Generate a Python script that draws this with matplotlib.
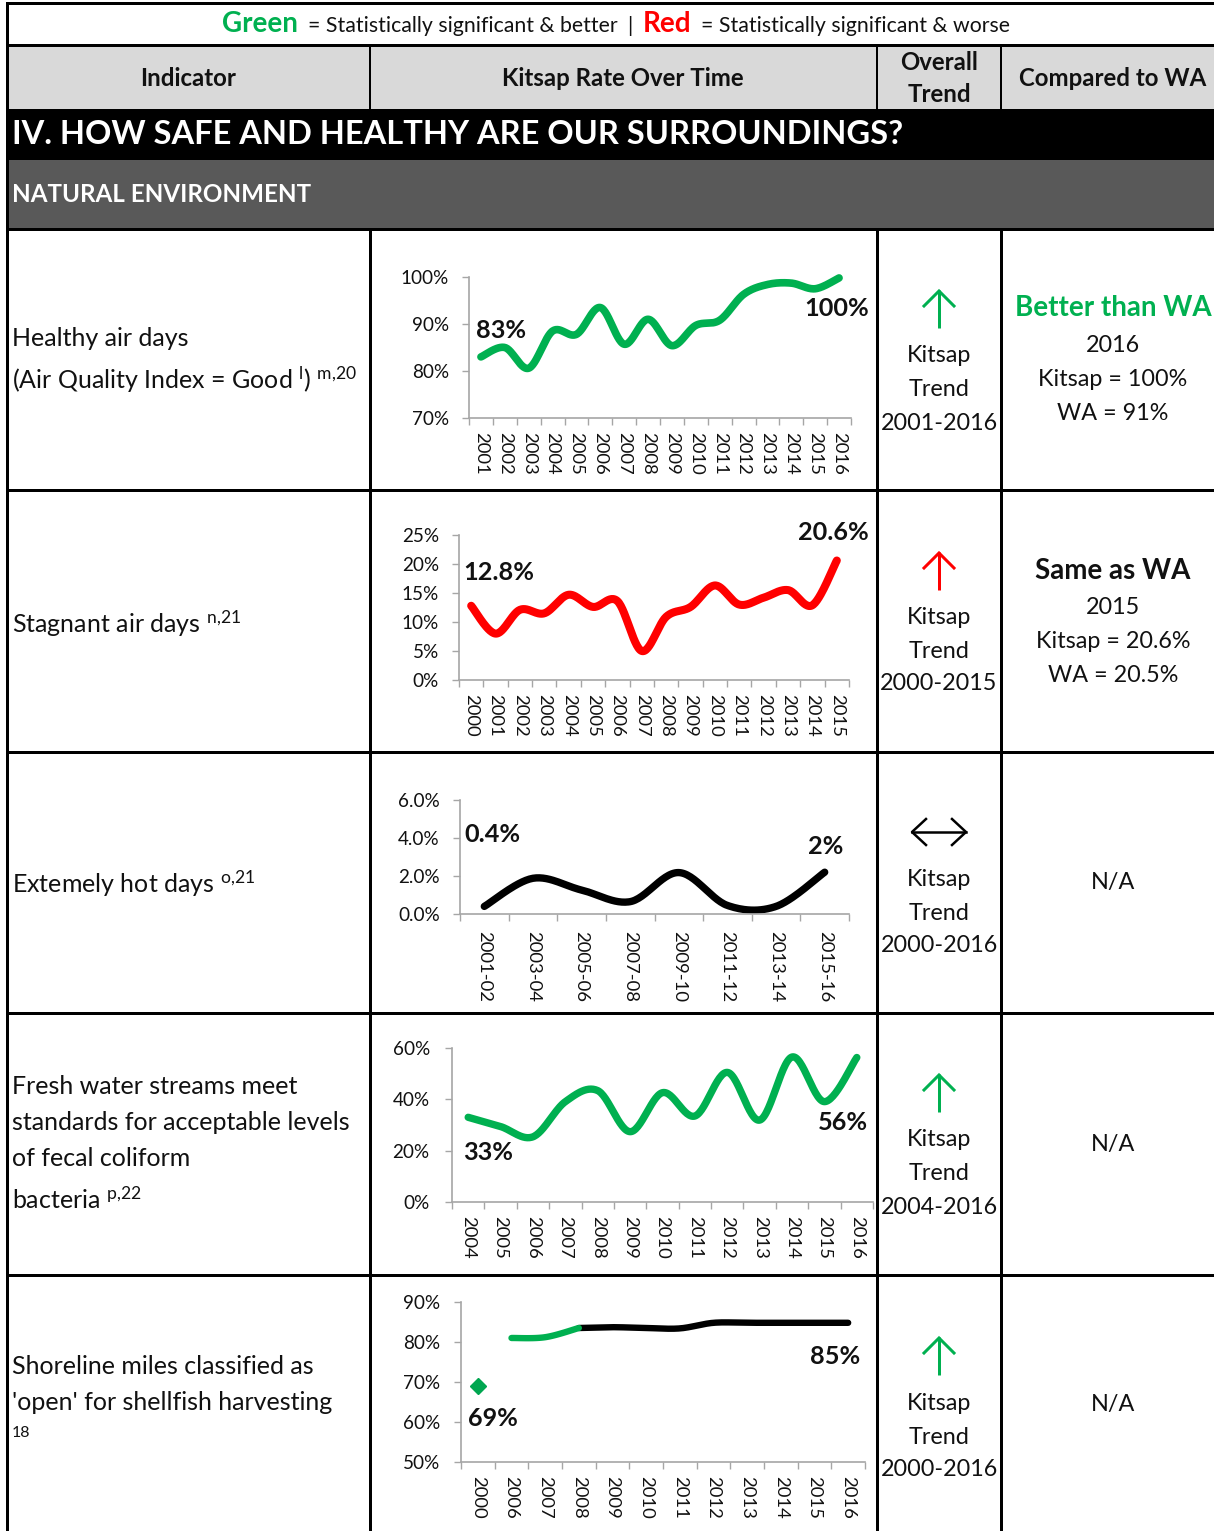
import numpy as np
import matplotlib
matplotlib.use('Agg')
import matplotlib.pyplot as plt
from matplotlib.offsetbox import TextArea, HPacker, AnnotationBbox

plt.rcParams['font.family'] = ['Lato', 'DejaVu Sans']
plt.rcParams['mathtext.fontset'] = 'custom'
plt.rcParams['mathtext.rm'] = 'Lato'
plt.rcParams['mathtext.it'] = 'Lato'

GREEN = '#00B050'
RED = '#FF0000'
AXGRAY = '#A6A6A6'
TXT = '#111111'

# ---------------- data ----------------
air_years = ['2001', '2002', '2003', '2004', '2005', '2006', '2007', '2008',
             '2009', '2010', '2011', '2012', '2013', '2014', '2015', '2016']
air_values = [83.0, 85.0, 80.6, 88.5, 87.8, 93.5, 85.7, 91.0,
              85.4, 89.7, 90.8, 96.3, 98.4, 98.7, 97.5, 99.8]

stag_years = ['2000', '2001', '2002', '2003', '2004', '2005', '2006', '2007',
              '2008', '2009', '2010', '2011', '2012', '2013', '2014', '2015']
stag_values = [12.8, 8.0, 12.1, 11.5, 14.7, 12.6, 13.6, 5.0,
               10.9, 12.6, 16.3, 13.0, 14.2, 15.5, 12.9, 20.6]

hot_periods = ['2001-02', '2003-04', '2005-06', '2007-08',
               '2009-10', '2011-12', '2013-14', '2015-16']
hot_values = [0.4, 1.88, 1.26, 0.65, 2.18, 0.45, 0.4, 2.2]

stream_years = ['2004', '2005', '2006', '2007', '2008', '2009', '2010',
                '2011', '2012', '2013', '2014', '2015', '2016']
stream_values = [33.0, 29.4, 25.4, 39.1, 43.4, 27.4, 42.6,
                 33.5, 50.5, 31.9, 56.5, 39.1, 56.3]

shore_years = ['2000', '2006', '2007', '2008', '2009', '2010', '2011',
               '2012', '2013', '2014', '2015', '2016']
shore_2000 = 69.0
shore_green_years = ['2006', '2007', '2008']
shore_green = [81.0, 81.2, 83.5]
shore_black_years = ['2008', '2009', '2010', '2011', '2012', '2013',
                     '2014', '2015', '2016']
shore_black = [83.5, 83.7, 83.5, 83.4, 84.8, 84.8, 84.8, 84.8, 84.8]

# ---------------- figure ----------------
W, H = 1214, 1531
fig = plt.figure(figsize=(W / 100, H / 100), dpi=100)
bg = fig.add_axes([0, 0, 1, 1])
bg.set_xlim(0, W)
bg.set_ylim(H, 0)
bg.axis('off')

def px(v):
    return v * 72 / 100

def rect(x0, y0, x1, y1, color):
    bg.add_patch(plt.Rectangle((x0, y0), x1 - x0, y1 - y0, color=color, lw=0, zorder=0))

def hline(y, x0, x1, w=3):
    bg.plot([x0, x1], [y, y], color='black', lw=px(w), solid_capstyle='projecting', zorder=5)

def vline(x, y0, y1, w=3):
    bg.plot([x, x], [y0, y1], color='black', lw=px(w), solid_capstyle='projecting', zorder=5)

# bands
rect(7, 45, W, 110, '#D9D9D9')
rect(7, 110, W, 160, '#000000')
rect(7, 160, W, 228, '#595959')

# borders
hline(3, 7, W)
hline(45, 7, W)
hline(110, 7, W, 2)
hline(229, 7, W)
for y in [490, 752, 1013, 1275]:
    hline(y, 7, W)
vline(7, 3, H)
for x in [370, 877, 1001]:
    vline(x, 45, 110, 2)
    vline(x, 229, H)

# legend row
ta = [TextArea('Green', textprops=dict(color=GREEN, fontsize=20, fontweight='bold')),
      TextArea('= Statistically significant & better', textprops=dict(color=TXT, fontsize=15.3)),
      TextArea('|', textprops=dict(color=TXT, fontsize=15.3)),
      TextArea('Red', textprops=dict(color=RED, fontsize=20, fontweight='bold')),
      TextArea('= Statistically significant & worse', textprops=dict(color=TXT, fontsize=15.3))]
hp = HPacker(children=ta, align='baseline', pad=0, sep=7)
bg.add_artist(AnnotationBbox(hp, (616, 24), xycoords='data', frameon=False,
                             box_alignment=(0.5, 0.5)))

# header
hdr = dict(fontsize=17.3, fontweight='bold', color=TXT, ha='center', va='center')
bg.text(188, 78, 'Indicator', **hdr)
bg.text(623, 78, 'Kitsap Rate Over Time', **hdr)
bg.text(939, 62, 'Overall', **hdr)
bg.text(939, 95, 'Trend', **hdr)
bg.text(1113, 78, 'Compared to WA', **hdr)

bg.text(12, 135, 'IV. HOW SAFE AND HEALTHY ARE OUR SURROUNDINGS?', fontsize=23.5,
        fontweight='bold', color='white', ha='left', va='center')
bg.text(12, 194, 'NATURAL ENVIRONMENT', fontsize=17.4, fontweight='bold',
        color='white', ha='left', va='center')

# indicator texts
body = dict(fontsize=18, color=TXT, ha='left', va='center')
bg.text(12, 338, 'Healthy air days', **body)
bg.text(12, 380, r'(Air Quality Index = Good $^{\mathregular{l}}$) $^{\mathregular{m{,}20}}$', **body)
bg.text(12, 624, r'Stagnant air days $^{\mathregular{n{,}21}}$', **body)
bg.text(12, 884, r'Extemely hot days $^{\mathregular{o{,}21}}$', **body)
bg.text(12, 1087, 'Fresh water streams meet', **body)
bg.text(12, 1123, 'standards for acceptable levels', **body)
bg.text(12, 1159, 'of fecal coliform', **body)
bg.text(12, 1199, r'bacteria $^{\mathregular{p{,}22}}$', **body)
bg.text(12, 1366, 'Shoreline miles classified as', **body)
bg.text(12, 1403, "'open' for shellfish harvesting", **body)
bg.text(12, 1433, '18', fontsize=11.5, color=TXT, ha='left', va='center')

# trend column
cx = 939
def up_arrow(ytop, color):
    bg.plot([cx, cx], [ytop, ytop + 38], color=color, lw=px(3), solid_capstyle='butt', zorder=6)
    bg.plot([cx - 15, cx, cx + 15], [ytop + 16, ytop + 1, ytop + 16], color=color, lw=px(3),
            solid_joinstyle='miter', zorder=6)

up_arrow(290, GREEN)
up_arrow(552, RED)
up_arrow(1074, GREEN)
up_arrow(1337, GREEN)
# double arrow
yy = 832
bg.plot([912, 966], [yy, yy], color='black', lw=px(2.5), zorder=6)
bg.plot([926, 912, 926], [yy - 13, yy, yy + 13], color='black', lw=px(2.5), zorder=6)
bg.plot([952, 966, 952], [yy - 13, yy, yy + 13], color='black', lw=px(2.5), zorder=6)

trend = dict(fontsize=16.8, color=TXT, ha='center', va='center')
for (y0, period) in [(356, '2001-2016'), (617, '2000-2015'), (879, '2000-2016'),
                     (1140, '2004-2016'), (1403, '2000-2016')]:
    bg.text(cx, y0, 'Kitsap', **trend)
    bg.text(cx, y0 + 34, 'Trend', **trend)
    bg.text(cx, y0 + 67, period, **trend)

# compared column
wx = 1113
bg.text(wx, 308, 'Better than WA', fontsize=20, fontweight='bold', color=GREEN, ha='center', va='center')
bg.text(wx, 345, '2016', **trend)
bg.text(wx, 379, 'Kitsap = 100%', **trend)
bg.text(wx, 413, 'WA = 91%', **trend)
bg.text(wx, 571, 'Same as WA', fontsize=20, fontweight='bold', color=TXT, ha='center', va='center')
bg.text(wx, 607, '2015', **trend)
bg.text(wx, 641, 'Kitsap = 20.6%', **trend)
bg.text(wx, 675, 'WA = 20.5%', **trend)
for y0 in [883, 1144, 1405]:
    bg.text(wx, y0, 'N/A', **trend)

# ---------------- charts ----------------
def smooth(xs, ys, n=30):
    xs = np.asarray(xs, float)
    ys = np.asarray(ys, float)
    if len(xs) < 2:
        return xs, ys
    pxs = np.concatenate([[xs[0]], xs, [xs[-1]]])
    pys = np.concatenate([[ys[0]], ys, [ys[-1]]])
    t = np.linspace(0, 1, n)
    ox, oy = [], []
    for i in range(1, len(pxs) - 2):
        segs = []
        for p in (pxs, pys):
            p0, p1, p2, p3 = p[i - 1], p[i], p[i + 1], p[i + 2]
            c1 = p1 + (p2 - p0) / 6
            c2 = p2 - (p3 - p1) / 6
            segs.append((1 - t) ** 3 * p1 + 3 * (1 - t) ** 2 * t * c1
                        + 3 * (1 - t) * t ** 2 * c2 + t ** 3 * p2)
        ox.append(segs[0])
        oy.append(segs[1])
    return np.concatenate(ox), np.concatenate(oy)

def make_chart(box, cats, ylim, yticks, ylabels, ypad=9.5, xpad=10):
    l, r, t, b = box
    ax = fig.add_axes([l / W, 1 - b / H, (r - l) / W, (b - t) / H])
    ax.patch.set_alpha(0)
    n = len(cats)
    ax.set_xlim(-0.5, n - 0.5)
    ax.set_ylim(*ylim)
    ax.set_yticks(yticks)
    ax.set_yticklabels(ylabels)
    ax.set_xticks(range(n))
    ax.set_xticklabels(cats, rotation=270)
    ax.set_xticks(np.arange(n + 1) - 0.5, minor=True)
    ax.tick_params(axis='x', which='major', length=0, pad=xpad, labelsize=13.3, labelcolor=TXT)
    ax.tick_params(axis='x', which='minor', length=5, width=1, color=AXGRAY)
    ax.tick_params(axis='y', length=5, width=1, color=AXGRAY, pad=ypad, labelsize=13.6,
                   labelcolor=TXT)
    for s in ['top', 'right']:
        ax.spines[s].set_visible(False)
    for s in ['left', 'bottom']:
        ax.spines[s].set_color(AXGRAY)
        ax.spines[s].set_linewidth(1.2)
    return ax

lab = dict(fontsize=18.2, fontweight='bold', color=TXT, va='center')

# chart 1
ax1 = make_chart((469, 851, 277, 418), air_years, (70, 100), [70, 80, 90, 100],
                 ['70%', '80%', '90%', '100%'])
sx, sy = smooth(np.arange(len(air_values)), air_values)
ax1.plot(sx, sy, color=GREEN, lw=5.5, solid_capstyle='round', clip_on=False)
bg.text(476, 330, '83%', ha='left', **lab)
bg.text(869, 308, '100%', ha='right', **lab)

# chart 2
ax2 = make_chart((459, 849, 535, 680), stag_years, (0, 25), [0, 5, 10, 15, 20, 25],
                 ['0%', '5%', '10%', '15%', '20%', '25%'])
sx, sy = smooth(np.arange(len(stag_values)), stag_values)
ax2.plot(sx, sy, color=RED, lw=5.8, solid_capstyle='round', clip_on=False)
bg.text(463, 573, '12.8%', ha='left', **lab)
bg.text(869, 532, '20.6%', ha='right', **lab)

# chart 3
ax3 = make_chart((460, 849, 800, 914), hot_periods, (0, 6), [0, 2, 4, 6],
                 ['0.0%', '2.0%', '4.0%', '6.0%'], xpad=12)
sx, sy = smooth(np.arange(len(hot_values)), hot_values)
ax3.plot(sx, sy, color='black', lw=5.3, solid_capstyle='round', clip_on=False)
bg.text(464, 834, '0.4%', ha='left', **lab)
bg.text(843, 846, '2%', ha='right', **lab)

# chart 4
ax4 = make_chart((452, 873, 1048, 1202), stream_years, (0, 60), [0, 20, 40, 60],
                 ['0%', '20%', '40%', '60%'], ypad=11)
sx, sy = smooth(np.arange(len(stream_values)), stream_values)
ax4.plot(sx, sy, color=GREEN, lw=5.3, solid_capstyle='round', clip_on=False)
bg.text(463, 1153, '33%', ha='left', **lab)
bg.text(868, 1122, '56%', ha='right', **lab)

# chart 5
ax5 = make_chart((461, 865, 1302, 1462), shore_years, (50, 90), [50, 60, 70, 80, 90],
                 ['50%', '60%', '70%', '80%', '90%'], ypad=10)
gi = [shore_years.index(y) for y in shore_green_years]
bi = [shore_years.index(y) for y in shore_black_years]
sx, sy = smooth(bi, shore_black)
ax5.plot(sx, sy, color='black', lw=4.6, solid_capstyle='round', clip_on=False)
sx, sy = smooth(gi, shore_green)
ax5.plot(sx, sy, color=GREEN, lw=4.6, solid_capstyle='round', clip_on=False)
ax5.plot([shore_years.index('2000')], [shore_2000], marker='D', color='#00A650',
         markersize=8, linestyle='none')
bg.text(468, 1418, '69%', ha='left', **lab)
bg.text(860, 1357, '85%', ha='right', **lab)

fig.savefig('out.png', dpi=100)
